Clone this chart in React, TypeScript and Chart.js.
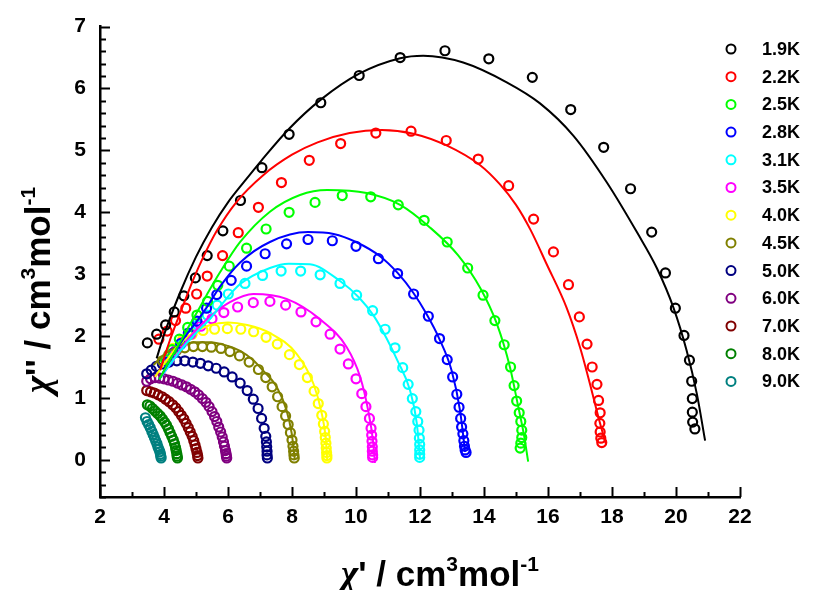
import React, { useEffect, useRef } from 'react';
import { Chart, registerables } from 'chart.js';
Chart.register(...registerables);

const temps = ['1.9K', '2.2K', '2.5K', '2.8K', '3.1K', '3.5K', '4.0K', '4.5K', '5.0K', '6.0K', '7.0K', '8.0K', '9.0K'];
const colors = ['#000000', '#ff0000', '#00ff00', '#0000ff', '#00ffff', '#ff00ff', '#ffff00', '#808000', '#000080', '#800080', '#800000', '#008000', '#008080'];

const xTicks = [2, 4, 6, 8, 10, 12, 14, 16, 18, 20, 22];
const yTicks = [0, 1, 2, 3, 4, 5, 6, 7];

// measured data (chi', chi'')
const d19 = [[3.48,1.89],[3.77,2.03],[4.05,2.18],[4.32,2.39],[4.62,2.65],[4.98,2.94],[5.35,3.30],[5.84,3.70],[6.39,4.19],[7.06,4.72],[7.91,5.26],[8.90,5.77],[10.10,6.21],[11.38,6.50],[12.78,6.61],[14.15,6.48],[15.51,6.18],[16.71,5.66],[17.74,5.05],[18.58,4.38],[19.24,3.68],[19.67,3.02],[19.98,2.45],[20.25,2.01],[20.42,1.61],[20.49,1.27],[20.51,0.99],[20.51,0.77],[20.52,0.61],[20.59,0.50]];
const d22 = [[3.84,1.95],[4.10,2.08],[4.36,2.25],[4.68,2.45],[5.02,2.68],[5.35,2.97],[5.83,3.30],[6.32,3.67],[6.95,4.08],[7.67,4.48],[8.54,4.84],[9.52,5.11],[10.62,5.28],[11.72,5.31],[12.82,5.16],[13.82,4.86],[14.77,4.43],[15.55,3.89],[16.17,3.36],[16.64,2.83],[16.98,2.31],[17.22,1.87],[17.38,1.50],[17.53,1.22],[17.58,0.96],[17.63,0.76],[17.62,0.59],[17.63,0.45],[17.65,0.35],[17.68,0.28]];
const d25 = [[4.05,1.62],[4.25,1.78],[4.48,1.95],[4.74,2.14],[5.03,2.34],[5.36,2.56],[5.68,2.82],[6.04,3.13],[6.58,3.42],[7.19,3.73],[7.91,4.00],[8.72,4.16],[9.57,4.27],[10.46,4.25],[11.32,4.12],[12.13,3.87],[12.85,3.52],[13.49,3.10],[13.97,2.66],[14.34,2.25],[14.63,1.86],[14.83,1.50],[14.94,1.20],[15.02,0.95],[15.10,0.76],[15.15,0.62],[15.18,0.48],[15.18,0.36],[15.15,0.27],[15.13,0.19]];
const d28 = [[4.10,1.58],[4.30,1.73],[4.52,1.88],[4.76,2.05],[5.03,2.24],[5.33,2.45],[5.65,2.67],[6.10,2.90],[6.58,3.13],[7.16,3.33],[7.83,3.49],[8.50,3.56],[9.26,3.54],[10.00,3.45],[10.70,3.25],[11.30,3.01],[11.80,2.68],[12.26,2.32],[12.61,1.96],[12.85,1.62],[13.02,1.34],[13.15,1.06],[13.22,0.85],[13.27,0.67],[13.30,0.53],[13.34,0.42],[13.37,0.31],[13.39,0.22],[13.41,0.16],[13.44,0.12]];
const d31 = [[4.12,1.60],[4.30,1.72],[4.52,1.86],[4.77,2.02],[5.05,2.18],[5.35,2.34],[5.66,2.50],[6.01,2.68],[6.53,2.85],[7.08,2.98],[7.66,3.05],[8.27,3.05],[8.88,2.99],[9.50,2.85],[10.02,2.66],[10.52,2.41],[10.91,2.11],[11.22,1.81],[11.46,1.49],[11.63,1.22],[11.76,0.99],[11.87,0.78],[11.93,0.62],[11.97,0.48],[11.98,0.35],[11.99,0.25],[11.99,0.16],[11.99,0.09],[11.99,0.04]];
const d35 = [[4.15,1.62],[4.35,1.76],[4.58,1.90],[4.84,2.03],[5.15,2.16],[5.50,2.28],[5.87,2.38],[6.30,2.47],[6.79,2.54],[7.31,2.56],[7.80,2.50],[8.28,2.39],[8.75,2.23],[9.19,2.03],[9.50,1.79],[9.76,1.55],[10.00,1.31],[10.18,1.07],[10.31,0.86],[10.42,0.67],[10.47,0.51],[10.49,0.40],[10.50,0.30],[10.51,0.21],[10.51,0.14],[10.52,0.08],[10.52,0.04]];
const d40 = [[4.05,1.62],[4.28,1.80],[4.58,1.94],[4.88,2.03],[5.22,2.09],[5.58,2.11],[5.98,2.12],[6.40,2.11],[6.80,2.07],[7.19,1.98],[7.54,1.87],[7.92,1.70],[8.23,1.54],[8.48,1.33],[8.69,1.11],[8.82,0.91],[8.93,0.72],[8.98,0.58],[9.02,0.46],[9.04,0.36],[9.06,0.27],[9.07,0.19],[9.08,0.12],[9.09,0.07],[9.09,0.03]];
const d45 = [[3.95,1.60],[4.15,1.70],[4.40,1.77],[4.65,1.81],[4.92,1.83],[5.20,1.83],[5.48,1.82],[5.78,1.80],[6.06,1.75],[6.36,1.68],[6.66,1.58],[6.95,1.46],[7.18,1.33],[7.38,1.18],[7.55,1.02],[7.69,0.86],[7.80,0.71],[7.88,0.57],[7.95,0.44],[8.00,0.32],[8.03,0.22],[8.05,0.14],[8.06,0.08],[8.07,0.03]];
const d50 = [[3.46,1.39],[3.60,1.45],[3.76,1.51],[3.95,1.55],[4.16,1.58],[4.40,1.60],[4.65,1.60],[4.90,1.58],[5.14,1.56],[5.38,1.52],[5.63,1.48],[5.88,1.42],[6.13,1.34],[6.38,1.24],[6.60,1.12],[6.79,0.98],[6.94,0.83],[7.05,0.67],[7.13,0.51],[7.18,0.38],[7.20,0.29],[7.21,0.21],[7.22,0.14],[7.22,0.08],[7.23,0.03]];
const d60 = [[3.46,1.27],[3.58,1.31],[3.72,1.33],[3.86,1.32],[4.00,1.31],[4.14,1.29],[4.28,1.27],[4.42,1.24],[4.56,1.21],[4.70,1.18],[4.83,1.14],[4.96,1.10],[5.08,1.05],[5.20,0.99],[5.31,0.93],[5.41,0.86],[5.50,0.78],[5.58,0.70],[5.65,0.62],[5.71,0.53],[5.77,0.45],[5.82,0.37],[5.86,0.29],[5.89,0.22],[5.92,0.15],[5.94,0.10],[5.95,0.06],[5.96,0.03]];
const d70 = [[3.46,1.12],[3.58,1.10],[3.70,1.08],[3.82,1.05],[3.94,1.02],[4.05,0.98],[4.16,0.94],[4.27,0.89],[4.37,0.84],[4.46,0.78],[4.54,0.72],[4.62,0.66],[4.69,0.59],[4.76,0.52],[4.82,0.45],[4.88,0.38],[4.93,0.31],[4.97,0.24],[5.00,0.18],[5.03,0.12],[5.05,0.07],[5.06,0.03]];
const d80 = [[3.48,0.89],[3.56,0.87],[3.64,0.83],[3.72,0.79],[3.80,0.75],[3.88,0.71],[3.95,0.66],[4.02,0.61],[4.08,0.56],[4.14,0.50],[4.19,0.44],[4.24,0.38],[4.29,0.32],[4.33,0.26],[4.36,0.20],[4.38,0.15],[4.40,0.10],[4.41,0.06],[4.42,0.03]];
const d90 = [[3.42,0.68],[3.47,0.62],[3.52,0.57],[3.57,0.52],[3.62,0.46],[3.66,0.41],[3.70,0.36],[3.74,0.31],[3.78,0.26],[3.81,0.21],[3.84,0.17],[3.87,0.13],[3.89,0.09],[3.90,0.06],[3.91,0.03]];

// fitted curves
const f19 = [[3.77,1.64],[4.00,2.02],[4.50,2.70],[5.00,3.28],[5.50,3.76],[6.00,4.16],[6.50,4.49],[7.05,4.84],[7.91,5.35],[8.90,5.82],[10.10,6.24],[11.38,6.49],[12.10,6.53],[13.35,6.42],[14.71,6.10],[15.75,5.76],[16.79,5.24],[17.83,4.49],[18.80,3.66],[19.40,3.10],[19.92,2.46],[20.33,1.77],[20.65,1.07],[20.91,0.31]];
const f22 = [[3.88,1.45],[4.15,1.88],[4.45,2.30],[4.66,2.58],[4.92,2.92],[5.23,3.28],[5.65,3.70],[6.27,4.17],[7.10,4.60],[8.00,4.93],[8.80,5.13],[9.80,5.28],[10.80,5.33],[11.79,5.27],[12.83,5.08],[13.88,4.76],[14.50,4.45],[15.00,4.12],[15.45,3.72],[15.96,3.16],[16.58,2.46],[17.00,1.82],[17.31,1.23],[17.58,0.68],[17.80,0.27]];
const f25 = [[3.85,1.30],[4.15,1.58],[4.50,1.90],[4.80,2.18],[5.05,2.40],[5.33,2.66],[5.75,3.03],[6.38,3.52],[7.31,4.01],[8.25,4.28],[9.10,4.36],[10.33,4.31],[11.38,4.12],[12.30,3.76],[13.20,3.30],[13.90,2.76],[14.40,2.20],[14.81,1.50],[15.07,0.86],[15.25,0.40],[15.38,-0.03]];
const f28 = [[3.85,1.30],[4.20,1.62],[4.60,1.95],[5.00,2.22],[5.33,2.46],[5.75,2.80],[6.38,3.19],[7.31,3.52],[8.50,3.68],[9.30,3.65],[10.00,3.52],[10.75,3.29],[11.30,3.02],[11.79,2.70],[12.20,2.36],[12.60,1.96],[12.99,1.44],[13.25,0.80],[13.41,0.13]];
const f31 = [[3.85,1.30],[4.20,1.55],[4.60,1.82],[5.00,2.05],[5.44,2.28],[5.75,2.48],[6.38,2.84],[7.31,3.10],[7.90,3.17],[8.56,3.16],[9.50,2.89],[10.10,2.62],[10.55,2.33],[10.95,1.97],[11.30,1.60],[11.69,1.12],[11.90,0.59],[12.00,0.03]];
const f35 = [[3.85,1.30],[4.20,1.55],[4.60,1.85],[5.10,2.15],[5.54,2.36],[6.06,2.55],[6.79,2.68],[7.83,2.60],[8.88,2.27],[9.71,1.82],[10.13,1.34],[10.38,0.80],[10.54,0.27],[10.59,-0.05]];
const f40 = [[3.72,1.34],[4.00,1.55],[4.40,1.82],[4.90,2.05],[5.40,2.17],[6.00,2.22],[6.60,2.18],[7.31,2.05],[8.15,1.71],[8.67,1.23],[8.93,0.75],[9.06,0.32],[9.10,0.00]];
const f45 = [[3.67,1.53],[4.00,1.70],[4.50,1.85],[5.00,1.90],[5.44,1.90],[6.00,1.84],[6.38,1.76],[6.79,1.61],[7.10,1.44],[7.52,1.18],[7.83,0.80],[7.99,0.43],[8.09,0.00]];

const dataSets = [d19, d22, d25, d28, d31, d35, d40, d45, d50, d60, d70, d80, d90];
const fitSets = [f19, f22, f25, f28, f31, f35, f40, f45];

const SANS = '"Liberation Sans", Arial, sans-serif';
const SERIF = '"Liberation Serif", "Times New Roman", serif';

type Part = { t: string; font: string; dy?: number };

function richParts(primes: string): Part[] {
  const main = `bold 35px ${SANS}`;
  const sup = `bold 21px ${SANS}`;
  return [
    { t: '\u03c7', font: `italic bold 37px ${SERIF}` },
    { t: primes + ' / cm', font: main },
    { t: '3', font: sup, dy: -15 },
    { t: 'mol', font: main },
    { t: '-1', font: sup, dy: -15 },
  ];
}

function drawRich(ctx: CanvasRenderingContext2D, parts: Part[], cx: number, baseline: number) {
  let total = 0;
  const widths = parts.map((p) => {
    ctx.font = p.font;
    const w = ctx.measureText(p.t).width;
    total += w;
    return w;
  });
  let x = cx - total / 2;
  ctx.textAlign = 'left';
  ctx.textBaseline = 'alphabetic';
  parts.forEach((p, i) => {
    ctx.font = p.font;
    ctx.fillText(p.t, x, baseline + (p.dy || 0));
    x += widths[i];
  });
}

const decoPlugin = {
  id: 'deco',
  afterDraw(chart: any) {
    const ctx: CanvasRenderingContext2D = chart.ctx;
    const xs = chart.scales.x;
    const ys = chart.scales.y;
    const { left, bottom } = chart.chartArea;
    ctx.save();
    ctx.strokeStyle = '#000';
    ctx.lineWidth = 2;
    for (let i = -3; i <= 35; i++) {
      const py = Math.round(ys.getPixelForValue(i / 5)) + 0.5;
      const len = i % 5 === 0 ? 10 : 6;
      ctx.beginPath();
      ctx.moveTo(left, py);
      ctx.lineTo(left + len, py);
      ctx.stroke();
    }
    for (let v = 2; v <= 22; v++) {
      const px = Math.round(xs.getPixelForValue(v)) + 0.5;
      const len = v % 2 === 0 ? 10 : 5;
      ctx.beginPath();
      ctx.moveTo(px, bottom);
      ctx.lineTo(px, bottom - len);
      ctx.stroke();
    }
    ctx.fillStyle = '#000';
    drawRich(ctx, richParts("'"), 440, 586);
    ctx.save();
    ctx.translate(50, 290);
    ctx.rotate(-Math.PI / 2);
    drawRich(ctx, richParts("''"), 0, 0);
    ctx.restore();
    temps.forEach((t, i) => {
      const y = 49 + i * 27.7;
      ctx.beginPath();
      ctx.strokeStyle = colors[i];
      ctx.lineWidth = 2;
      ctx.arc(731, y, 4.5, 0, Math.PI * 2);
      ctx.stroke();
      ctx.fillStyle = '#000';
      ctx.font = `bold 18px ${SANS}`;
      ctx.textAlign = 'left';
      ctx.textBaseline = 'middle';
      ctx.fillText(t, 762, y + 1);
    });
    ctx.restore();
  },
};

export default function App() {
  const ref = useRef<HTMLCanvasElement | null>(null);
  useEffect(() => {
    if (!ref.current) return;
    const toXY = (arr: number[][]) => arr.map(([x, y]) => ({ x, y }));
    const lineDs = fitSets.map((f, i) => ({
      label: 'fit ' + temps[i],
      data: toXY(f),
      showLine: true,
      borderColor: colors[i],
      borderWidth: 2,
      pointRadius: 0,
      cubicInterpolationMode: 'monotone' as const,
      fill: false,
    }));
    const pointDs = dataSets.map((d, i) => ({
      label: temps[i],
      data: toXY(d),
      showLine: false,
      borderColor: colors[i],
      backgroundColor: 'rgba(0,0,0,0)',
      pointBorderColor: colors[i],
      pointBackgroundColor: 'rgba(0,0,0,0)',
      pointRadius: 4.5,
      pointBorderWidth: 2.2,
    }));
    const tickFont = { family: SANS, size: 21, weight: 'bold' as const };
    const chart = new Chart(ref.current, {
      type: 'scatter',
      data: { datasets: [...lineDs, ...pointDs] as any },
      options: {
        responsive: false,
        animation: false,
        devicePixelRatio: 1,
        events: [],
        layout: { padding: { left: 0, right: 74, top: 24, bottom: 0 } },
        plugins: { legend: { display: false }, tooltip: { enabled: false } },
        scales: {
          x: {
            type: 'linear',
            min: 2,
            max: 22,
            afterBuildTicks: (s: any) => { s.ticks = xTicks.map((v) => ({ value: v })); },
            afterFit: (s: any) => { s.height = 93; },
            grid: { display: false, drawTicks: false },
            border: { display: true, color: '#000', width: 2.5 },
            ticks: { font: tickFont, color: '#000', padding: 8, maxRotation: 0, autoSkip: false },
          },
          y: {
            type: 'linear',
            min: -0.6,
            max: 7,
            afterBuildTicks: (s: any) => { s.ticks = yTicks.map((v) => ({ value: v })); },
            afterFit: (s: any) => { s.width = 100; },
            grid: { display: false, drawTicks: false },
            border: { display: true, color: '#000', width: 2.5 },
            ticks: { font: tickFont, color: '#000', padding: 14, autoSkip: false },
          },
        },
      },
      plugins: [decoPlugin],
    });
    return () => chart.destroy();
  }, []);
  return (
    <div>
      <canvas ref={ref} width={814} height={590} style={{ position: 'absolute', left: 0, top: 0 }} />
    </div>
  );
}
